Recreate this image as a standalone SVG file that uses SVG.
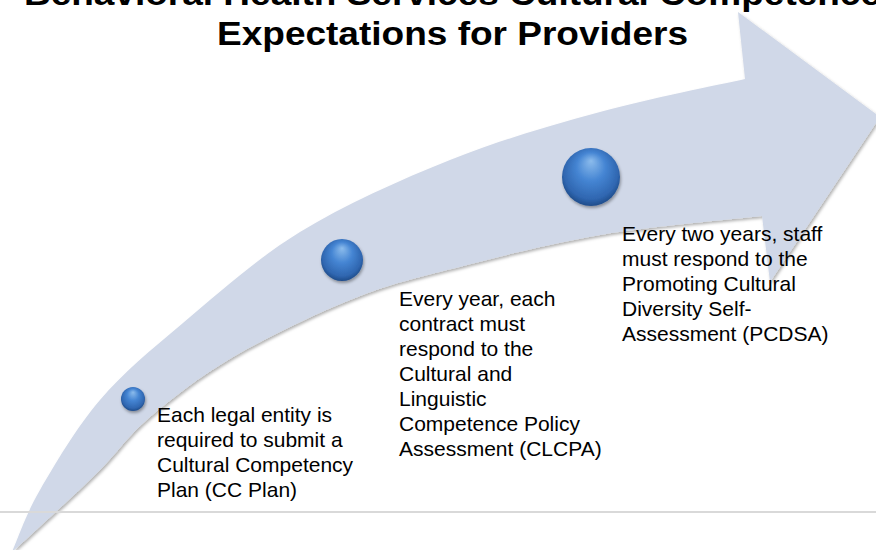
<svg xmlns="http://www.w3.org/2000/svg" width="876" height="550" viewBox="0 0 876 550">
  <defs>
    <filter id="arrowShadow" x="-5%" y="-5%" width="115%" height="115%">
      <feDropShadow dx="1.5" dy="2" stdDeviation="1.5" flood-color="#000" flood-opacity="0.3"/>
    </filter>
    <filter id="ballShadow" x="-30%" y="-30%" width="160%" height="160%">
      <feDropShadow dx="1" dy="2" stdDeviation="1.5" flood-color="#000" flood-opacity="0.35"/>
    </filter>
    <radialGradient id="ball" cx="50%" cy="45%" r="55%" fx="50%" fy="22%">
      <stop offset="0" stop-color="#8cbcec"/>
      <stop offset="0.45" stop-color="#4585d3"/>
      <stop offset="0.85" stop-color="#2f66b0"/>
      <stop offset="1" stop-color="#1f4c8a"/>
    </radialGradient>
    <style>
      .title { font-family: "Liberation Sans", Arial, sans-serif; font-weight: bold; font-size: 34px; fill: #000; }
      .label { font-family: "Liberation Sans", Arial, sans-serif; font-size: 21px; fill: #000; }
      .ball { fill: url(#ball); filter: url(#ballShadow); }
    </style>
  </defs>

  <rect width="876" height="550" fill="#ffffff"/>

  <!-- title -->
  <g id="title">
    <text class="title" x="24" y="5" textLength="857" lengthAdjust="spacingAndGlyphs">Behavioral Health Services Cultural Competence</text>
    <text class="title" x="217" y="44.5" textLength="471" lengthAdjust="spacingAndGlyphs">Expectations for Providers</text>
  </g>

  <!-- curved upward arrow -->
  <g id="connectors">
    <path id="timeline-arrow" fill="#d0d8e8" filter="url(#arrowShadow)"
      d="M745,79
         C720.8,84.5 649.2,98.5 600,112
         C550.8,125.5 500,140 450,160
         C400,180 344.5,204.8 300,232
         C255.5,259.2 216.3,295 183,323
         C149.7,351 123.8,372.2 100,400
         C76.2,427.8 54.7,464.7 40,490
         C25.3,515.3 16.7,541.7 12,552
         C17.8,546.7 32.3,533.7 47,520
         C61.7,506.3 82.8,487.2 100,470
         C117.2,452.8 127.8,435.8 150,417
         C172.2,398.2 199.7,376.5 233,357
         C266.3,337.5 314.3,314.5 350,300
         C385.7,285.5 405.3,280.8 447,270
         C488.7,259.2 547.5,244 600,235
         C652.5,226 735,219.2 762,216
         L770,282 L880,117 L738,12 Z"/>
  </g>

  <!-- baseline rule -->
  <line x1="0" y1="512" x2="876" y2="512" stroke="#d9d9d9" stroke-width="2"/>

  <!-- milestone 1 -->
  <g id="step-cc-plan">
    <circle class="ball" cx="133" cy="399" r="12"/>
    <text class="label" x="157" y="421.5">
      <tspan x="157">Each legal entity is</tspan>
      <tspan x="157" dy="25">required to submit a</tspan>
      <tspan x="157" dy="25">Cultural Competency</tspan>
      <tspan x="157" dy="25">Plan (CC Plan)</tspan>
    </text>
  </g>

  <!-- milestone 2 -->
  <g id="step-clcpa">
    <circle class="ball" cx="342" cy="260" r="21"/>
    <text class="label" x="399" y="306">
      <tspan x="399">Every year, each</tspan>
      <tspan x="399" dy="25">contract must</tspan>
      <tspan x="399" dy="25">respond to the</tspan>
      <tspan x="399" dy="25">Cultural and</tspan>
      <tspan x="399" dy="25">Linguistic</tspan>
      <tspan x="399" dy="25">Competence Policy</tspan>
      <tspan x="399" dy="25">Assessment (CLCPA)</tspan>
    </text>
  </g>

  <!-- milestone 3 -->
  <g id="step-pcdsa">
    <circle class="ball" cx="591" cy="177" r="29"/>
    <text class="label" x="622" y="241">
      <tspan x="622">Every two years, staff</tspan>
      <tspan x="622" dy="25">must respond to the</tspan>
      <tspan x="622" dy="25">Promoting Cultural</tspan>
      <tspan x="622" dy="25">Diversity Self-</tspan>
      <tspan x="622" dy="25">Assessment (PCDSA)</tspan>
    </text>
  </g>
</svg>
